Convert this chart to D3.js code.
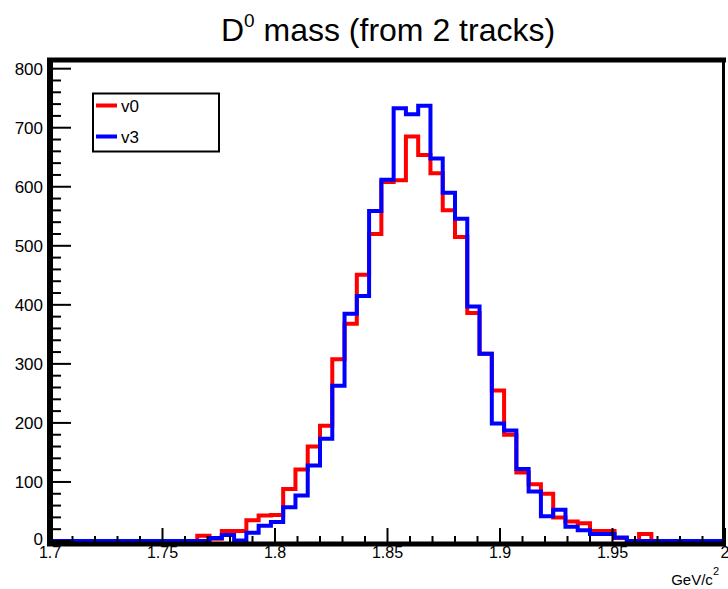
<!DOCTYPE html>
<html>
<head>
<meta charset="utf-8">
<script src="https://cdn.jsdelivr.net/npm/d3@7"></script>
<style>
    body { margin: 0; background: #fff; }
    text { font-family: "Liberation Sans", Arial, sans-serif; fill: #000; }
</style>
</head>
<body>
<div class="panel"></div>
<script>

// Histogram binning (55 bins between 1.7 and 2.0 GeV/c^2)
const xMin = 1.7;
const xMax = 2.0;
const nBins = 55;

// Bin contents
const v0 = [
    0, 0, 0, 0, 0, 0, 0, 0, 0, 0,
    0, 0, 9, 4, 17, 17, 35, 43, 44, 88,
    121, 160, 195, 308, 368, 451, 520, 608, 611, 685,
    654, 623, 560, 515, 386, 317, 255, 180, 116, 96,
    80, 40, 33, 30, 17, 17, 5, 0, 12, 0,
    0, 0, 0, 0, 0
];
const v3 = [
    0, 0, 0, 0, 0, 0, 0, 0, 0, 0,
    0, 0, 0, 5, 10, 1, 14, 26, 32, 57,
    77, 128, 173, 263, 385, 415, 559, 612, 733, 723,
    737, 648, 590, 546, 397, 317, 199, 187, 122, 84,
    42, 53, 24, 18, 12, 12, 6, 0, 0, 0,
    0, 0, 0, 0, 0
];

const seriesNames = ["v0", "v3"];
const seriesColors = ["#ff0000", "#0000ff"];

const yTicks = [0, 100, 200, 300, 400, 500, 600, 700, 800];
const xTicks = [1.7, 1.75, 1.8, 1.85, 1.9, 1.95, 2.0];
const xTickLabels = ["1.7", "1.75", "1.8", "1.85", "1.9", "1.95", "2"];

const width = 728;
const height = 589;

const svg = d3.select(".panel").append("svg")
    .attr("width", width)
    .attr("height", height);

const x = d3.scaleLinear().domain([xMin, xMax]).range([50, 725]);
const y = d3.scaleLinear().domain([0, 813]).range([541, 61]);

// Title

const title = svg.append("text")
    .attr("x", 388)
    .attr("y", 41)
    .attr("text-anchor", "middle")
    .style("font-size", "32px");
title.append("tspan").text("D");
title.append("tspan").attr("dy", -14).style("font-size", "19px").text("0");
title.append("tspan").attr("dy", 14).text(" mass (from 2 tracks)");

// Histograms ////////////////////////////////////

const binWidth = (xMax - xMin) / nBins;

const step = d3.line()
    .x(d => x(d[0]))
    .y(d => y(d[1]))
    .curve(d3.curveStepAfter);

function histPoints(values) {
    const pts = values.map((v, i) => [xMin + i * binWidth, v]);
    pts.push([xMax, values[values.length - 1]]);
    return pts;
}

svg.append("defs").append("clipPath")
    .attr("id", "frame")
    .append("rect")
    .attr("x", 50).attr("y", 61)
    .attr("width", 675).attr("height", 485);

const hists = svg.append("g").attr("clip-path", "url(#frame)");

[v0, v3].forEach((values, i) => {
    hists.append("path")
        .attr("d", step(histPoints(values)))
        .attr("fill", "none")
        .attr("stroke", seriesColors[i])
        .attr("stroke-width", 4);
});

// Frame and axes

svg.append("line")
    .attr("x1", 47).attr("x2", 726)
    .attr("y1", 60).attr("y2", 60)
    .attr("stroke", "#000").attr("stroke-width", 5);
svg.append("line")
    .attr("x1", 723.5).attr("x2", 723.5)
    .attr("y1", 58).attr("y2", 546)
    .attr("stroke", "#000").attr("stroke-width", 3);

const yAxis = svg.append("g");

d3.range(0, 801, 20).forEach(t => {
    const major = t % 100 === 0;
    yAxis.append("line")
        .attr("x1", 50).attr("x2", major ? 71 : 61)
        .attr("y1", y(t)).attr("y2", y(t))
        .attr("stroke", "#000").attr("stroke-width", 2);
});

yAxis.selectAll(".ylabel")
    .data(yTicks)
    .join("text")
    .attr("class", "ylabel")
    .attr("x", 43)
    .attr("y", d => y(d) - (d === 0 ? 2 : 0))
    .attr("dy", "0.36em")
    .attr("text-anchor", "end")
    .style("font-size", "17px")
    .text(d => d);

const xAxis = svg.append("g");

d3.range(0, 31).forEach(i => {
    const t = xMin + i * 0.01;
    const major = i % 5 === 0;
    xAxis.append("line")
        .attr("x1", x(t)).attr("x2", x(t))
        .attr("y1", 544).attr("y2", major ? 528 : 536)
        .attr("stroke", "#000").attr("stroke-width", 2);
});

xAxis.selectAll(".xlabel")
    .data(xTicks)
    .join("text")
    .attr("class", "xlabel")
    .attr("x", d => x(d))
    .attr("y", 558)
    .attr("text-anchor", "middle")
    .style("font-size", "16px")
    .text((d, i) => xTickLabels[i]);

svg.append("line")
    .attr("x1", 47).attr("x2", 726)
    .attr("y1", 544).attr("y2", 544)
    .attr("stroke", "#000").attr("stroke-width", 5);
svg.append("line")
    .attr("x1", 50).attr("x2", 50)
    .attr("y1", 58).attr("y2", 546)
    .attr("stroke", "#000").attr("stroke-width", 6);

const xTitle = svg.append("text")
    .attr("x", 719)
    .attr("y", 585)
    .attr("text-anchor", "end")
    .style("font-size", "15px");
xTitle.append("tspan").text("GeV/c");
xTitle.append("tspan").attr("dy", -10).style("font-size", "11px").text("2");

// Legend

const legend = svg.append("g");

legend.append("rect")
    .attr("x", 93).attr("y", 93.5)
    .attr("width", 126).attr("height", 58)
    .attr("fill", "#fff")
    .attr("stroke", "#000").attr("stroke-width", 2);

seriesNames.forEach((name, i) => {
    const ly = 105.5 + i * 31;
    legend.append("line")
        .attr("x1", 96).attr("x2", 117)
        .attr("y1", ly).attr("y2", ly)
        .attr("stroke", seriesColors[i]).attr("stroke-width", 4);
    legend.append("text")
        .attr("x", 121)
        .attr("y", ly)
        .attr("dy", "0.36em")
        .style("font-size", "17px")
        .text(name);
});

</script>
</body>
</html>
